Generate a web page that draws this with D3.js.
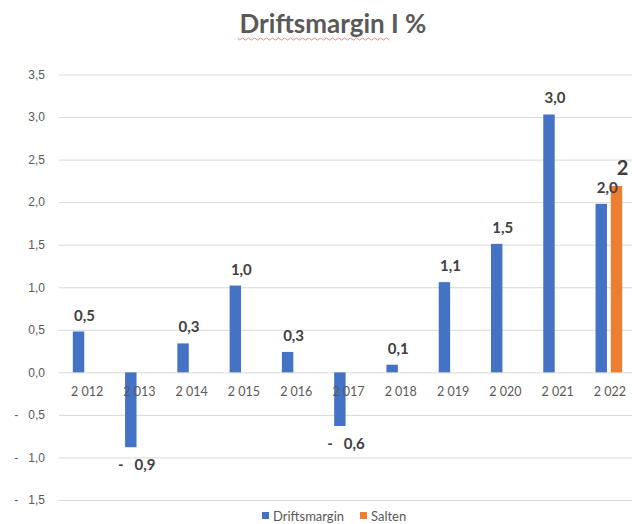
<!DOCTYPE html>
<html>
<head>
<meta charset="utf-8">
<script src="https://cdn.jsdelivr.net/npm/d3@7"></script>
<style>
  body { margin: 0; background: #fff; }
  svg { font-family: Lato, "Open Sans", sans-serif; }
  text { white-space: pre; }
</style>
</head>
<body>
<svg id="chart" width="632" height="524"></svg>
<script>
// verdier lest av bildet
const years = [2012, 2013, 2014, 2015, 2016, 2017, 2018, 2019, 2020, 2021, 2022]
const driftsmargin = [0.48, -0.88, 0.34, 1.02, 0.24, -0.63, 0.09, 1.06, 1.51, 3.03, 1.98]
const salten = [null, null, null, null, null, null, null, null, null, null, 2.19]
const driftLabels = ["0,5", "-   0,9", "0,3", "1,0", "0,3", "-   0,6", "0,1", "1,1", "1,5", "3,0", "2,0"]
const saltenLabels = [null, null, null, null, null, null, null, null, null, null, "2"]
const yTicks = [-1.5, -1.0, -0.5, 0, 0.5, 1.0, 1.5, 2.0, 2.5, 3.0, 3.5]
const series = ["Driftsmargin", "Salten"]
const colors = ["#4472C4", "#ED7D31"]

const svg = d3.select('#chart')

const x = d3.scaleBand()
    .domain(years)
    .range([60, 635])
    .paddingInner(0.49)
    .paddingOuter(0.245)

const xSub = d3.scaleBand()
    .domain(series)
    .range([0, x.bandwidth()])
    .paddingInner(0.25)

const y = d3.scaleLinear()
    .domain([-1.5, 3.5])
    .range([500, 74.5])

const color = d3.scaleOrdinal().domain(series).range(colors)

// tittel
svg.append('text')
    .attr('x', 333).attr('y', 33)
    .attr('text-anchor', 'middle')
    .attr('font-size', 26).attr('font-weight', 'bold')
    .attr('fill', '#595959')
    .text('Driftsmargin I %')

// rød stavekontroll-strek under "Driftsmargin"
const wave = d3.path()
wave.moveTo(238, 38)
for (let i = 238; i < 390; i += 3) wave.lineTo(i + 1.5, (i - 238) % 6 === 0 ? 40 : 38)
svg.append('path')
    .attr('d', wave.toString())
    .attr('fill', 'none').attr('stroke', '#e86a6a').attr('stroke-width', 0.8)

// y-akse med rutenett
const fmtNum = v => (v < 0 ? '-   ' : '') + d3.format('.1f')(Math.abs(v)).replace('.', ',')
const yAxis = svg.append('g')
    .attr('transform', 'translate(59,0)')
    .call(d3.axisLeft(y).tickValues(yTicks).tickFormat(fmtNum)
        .tickSizeInner(-(632 - 59)).tickSizeOuter(0).tickPadding(14))
yAxis.select('.domain').remove()
yAxis.selectAll('.tick line').attr('stroke', '#d9d9d9')
yAxis.selectAll('.tick text').attr('fill', '#595959').attr('font-size', 12)

// søyler
const rows = years.map((yr, i) => ({ year: yr, values: [driftsmargin[i], salten[i]], labels: [driftLabels[i], saltenLabels[i]] }))

const groups = svg.append('g').selectAll('g')
    .data(rows)
    .join('g')
    .attr('transform', d => `translate(${x(d.year)},0)`)

groups.selectAll('rect')
    .data(d => series.map((s, k) => ({ key: s, value: d.values[k] })).filter(e => e.value != null))
    .join('rect')
    .attr('x', d => xSub(d.key))
    .attr('width', xSub.bandwidth())
    .attr('y', d => y(Math.max(0, d.value)))
    .attr('height', d => Math.abs(y(d.value) - y(0)))
    .attr('fill', d => color(d.key))

// x-etiketter ved nullinjen
const fmtYear = d3.formatLocale({ decimal: ',', thousands: ' ', grouping: [3], currency: ['', ''] }).format(',')
svg.append('g').selectAll('text')
    .data(years)
    .join('text')
    .attr('x', d => x(d) + x.bandwidth() / 2 + 1)
    .attr('y', y(0) + 24)
    .attr('text-anchor', 'middle')
    .attr('font-size', 12.5).attr('fill', '#595959')
    .text(d => fmtYear(d))

// dataetiketter
groups.selectAll('text.lbl')
    .data(d => series.map((s, k) => ({ key: s, value: d.values[k], label: d.labels[k] })).filter(e => e.value != null))
    .join('text')
    .attr('class', 'lbl')
    .attr('x', d => xSub(d.key) + xSub.bandwidth() / 2 + 6)
    .attr('y', d => d.value >= 0 ? y(d.value) - 11 : y(d.value) + 23)
    .attr('text-anchor', 'middle')
    .attr('font-weight', 'bold')
    .attr('font-size', d => d.key === 'Salten' ? 20 : 15)
    .attr('fill', '#404040')
    .text(d => d.label)

// tegnforklaring
const legend = svg.append('g').selectAll('g')
    .data(series)
    .join('g')
    .attr('transform', (d, i) => `translate(${[262, 360][i]},512)`)
legend.append('rect').attr('width', 7).attr('height', 7).attr('fill', d => color(d))
legend.append('text')
    .attr('x', 11).attr('y', 8.5)
    .attr('font-size', 13).attr('fill', '#595959')
    .text(d => d)
</script>
</body>
</html>
